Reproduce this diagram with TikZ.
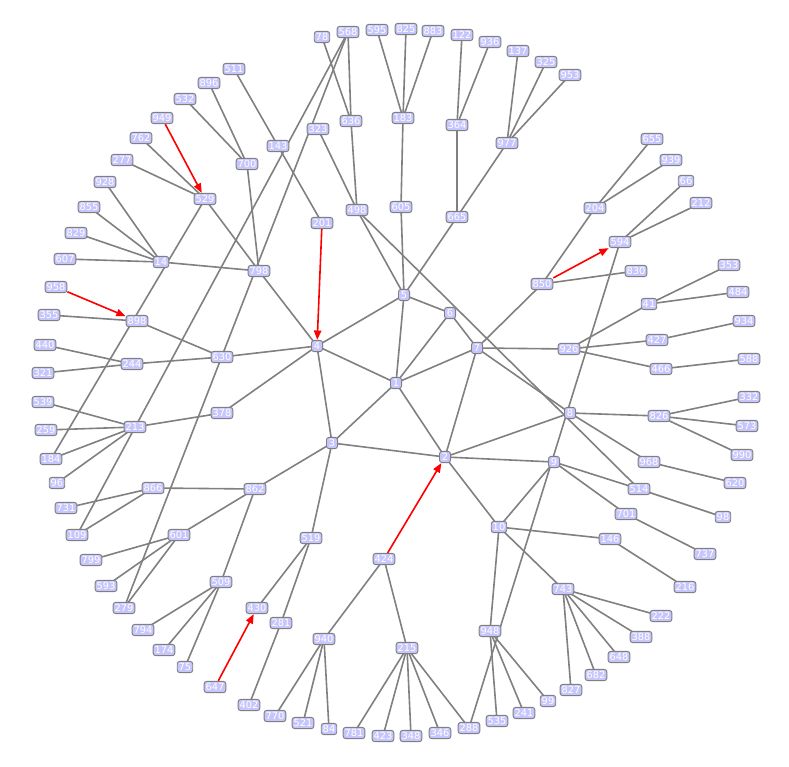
\documentclass[tikz,border=0pt]{standalone}
\usepackage{fontspec}
\setsansfont{DejaVu Sans}
\usetikzlibrary{arrows.meta,backgrounds}
\definecolor{vfill}{RGB}{198,198,252}
\definecolor{vline}{RGB}{128,128,128}
\tikzset{
  vx/.style={draw=vline,fill=vfill,rounded corners=2pt,line width=0.7pt,text=white,font=\sffamily\fontsize{7.4}{7.4}\selectfont,inner sep=1.1pt,text height=5.3pt,text depth=0pt,minimum width=8.3pt,minimum height=8.5pt},
  edge/.style={vline,line width=1.2pt},
  redge/.style={red,line width=1.2pt,-{Triangle[length=7pt,width=5.5pt]}}
}
\begin{document}
\begin{tikzpicture}[x=0.75pt,y=-0.75pt]
                \useasboundingbox (0,0) rectangle (789,767);
                \foreach \n/\x/\y in {1/396/383,2/445/457,3/332/443,4/317/346,5/404/295,6/450/313,7/477/348,8/570/413,9/554/462,10/499/527,
                    511/234/69,896/209/83,532/185/99,949/162/118,762/141/138,277/122/160,928/105/182,855/89/207,829/76/233,607/65/259,
                    14/161/262,529/205/199,700/247/164,143/278/146,798/259/271,78/322/37,568/348/32,595/377/30,825/406/29,883/433/31,
                    122/462/35,936/490/42,137/518/51,325/546/62,953/570/75,364/457/125,977/507/143,183/403/118,636/351/121,323/318/129,
                    498/357/210,605/401/207,665/457/217,201/322/223,655/652/139,939/671/160,66/686/181,212/701/203,204/595/208,594/620/242,
                    830/636/271,850/542/284,353/729/265,484/738/292,41/649/304,934/744/321,427/657/340,926/569/349,588/749/359,466/661/369,
                    332/749/397,826/659/416,573/747/426,990/742/455,968/649/462,620/735/483,514/639/489,98/723/517,701/626/514,146/610/539,
                    737/705/554,216/685/587,743/563/589,222/661/616,388/641/637,648/619/657,682/596/675,827/571/690,99/548/701,241/524/713,
                    535/497/721,288/469/728,948/490/631,958/56/287,355/49/315,898/137/321,440/45/345,244/132/364,630/222/357,321/43/373,
                    539/43/402,378/222/413,259/46/430,213/135/427,184/51/459,96/57/483,866/153/488,862/255/489,731/66/508,109/77/535,
                    601/179/535,519/311/538,799/91/560,593/106/586,509/221/582,279/124/608,430/257/608,281/281/623,794/143/630,174/164/650,
                    75/185/667,647/215/687,402/249/705,770/275/716,521/303/723,84/329/729,940/324/639,424/384/559,215/407/648,781/354/733,
                    423/383/736,348/411/736,346/440/733} {
                    \node[vx] (n\n) at (\x,\y) {\n};
                }
                \begin{pgfonlayer}{background}
                \foreach \a/\b in {1/2,1/3,1/4,1/5,1/6,1/7,2/3,2/7,2/8,2/9,2/10,3/4,4/5,5/6,6/7,7/8,9/10,
                    4/630,4/798,4/378,5/605,5/498,5/665,7/926,7/850,8/826,8/968,9/514,9/701,10/146,10/743,10/948,3/862,3/519,
                    568/279,568/109,594/288,529/184,498/514,143/511,143/201,
                    896/700,532/700,700/798,762/529,277/529,529/798,928/14,855/14,829/14,607/14,14/798,
                    78/636,568/636,636/498,323/498,595/183,825/183,883/183,183/605,122/364,936/364,364/665,137/977,325/977,953/977,977/665,
                    655/204,939/204,204/850,850/830,66/594,212/594,353/41,484/41,41/926,934/427,427/926,588/466,466/926,
                    332/826,573/826,990/826,620/968,98/514,737/701,216/146,222/743,388/743,648/743,682/743,827/743,99/948,241/948,535/948,
                    355/898,898/630,440/244,321/244,244/630,539/213,259/213,184/213,96/213,213/378,731/866,109/866,866/862,862/601,862/509,
                    799/601,593/601,279/601,794/509,174/509,75/509,430/519,519/281,281/402,770/940,521/940,84/940,940/424,
                    781/215,423/215,348/215,346/215,288/215,215/424} {
                    \draw[edge] (n\a.center) -- (n\b.center);
                }
                \end{pgfonlayer}
                \foreach \a/\b in {949/529,958/898,201/4,850/594,424/2,647/430} {
                    \draw[redge] (n\a) -- (n\b);
                }
            \end{tikzpicture}
\end{document}
